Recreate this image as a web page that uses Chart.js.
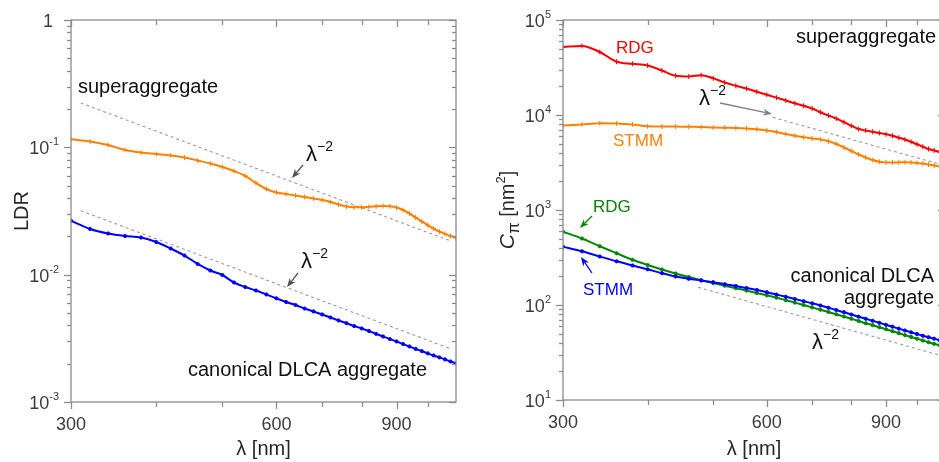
<!DOCTYPE html>
<html>
<head>
<meta charset="utf-8">
<script src="https://cdn.jsdelivr.net/npm/chart.js@4.4.1/dist/chart.umd.min.js"></script>
<style>
  html, body { margin: 0; padding: 0; background: #fff; overflow: hidden; }
  #wrap { position: relative; width: 939px; height: 462px; overflow: hidden; }
  #ldr { position: absolute; left: 0; top: 0; }
  #cpi { position: absolute; left: 470px; top: 0; }
</style>
</head>
<body>
<div id="wrap">
  <canvas id="ldr" width="470" height="462"></canvas>
  <canvas id="cpi" width="490" height="462"></canvas>
</div>
<script>
const FONT = '"Liberation Sans", Arial, Helvetica, sans-serif';

// wavelength [nm]
const lambda = [300, 320, 340, 360, 380, 400, 420, 440, 460, 480, 500, 520, 540, 560, 580,
  600, 620, 640, 660, 680, 700, 720, 740, 760, 780, 800, 820, 840, 860, 880, 900,
  920, 940, 960, 980, 1000, 1020, 1040, 1060, 1080, 1100];

// left panel: LDR
const ldrSuper = [0.1156, 0.1111, 0.1043, 0.0953, 0.0911, 0.0886, 0.0863, 0.0832, 0.0788, 0.0746,
  0.0701, 0.0652, 0.0596, 0.0525, 0.0471, 0.0442, 0.0430, 0.0418, 0.0407, 0.0396, 0.0386,
  0.0372, 0.0356, 0.0343, 0.0338, 0.0338, 0.0341, 0.0345, 0.0346, 0.0344, 0.0337, 0.0322,
  0.0302, 0.0281, 0.0262, 0.0245, 0.0230, 0.0218, 0.0209, 0.0201, 0.0194];
const ldrDlca = [0.02653, 0.02284, 0.02105, 0.02012, 0.01957, 0.01805, 0.01605, 0.01414, 0.01213,
  0.01078, 0.00994, 0.00868, 0.00800, 0.00751, 0.00699, 0.00652, 0.00610, 0.00578, 0.00542,
  0.00514, 0.00487, 0.00461, 0.00437, 0.00416, 0.00395, 0.00378, 0.00361, 0.00343, 0.00327,
  0.00312, 0.00299, 0.00285, 0.00273, 0.00261, 0.00251, 0.00241, 0.00232, 0.00224, 0.00216,
  0.00208, 0.00201];
// lambda^-2 guide lines (end points)
const ldrGuideLambda = [310, 1080];
const ldrSuperGuide = [0.223, 0.0184];
const ldrDlcaGuide = [0.0318, 0.00262];

// right panel: C_pi [nm^2]
const cpiSuperRdg = [51960, 53250, 46050, 36400, 34590, 33200, 29410, 25920, 25430, 26240, 24340,
  21990, 20340, 19010, 17550, 16360, 15250, 14210, 13280, 12500, 11700, 10700, 9880, 9166,
  8400, 7697, 7122, 6867, 6670, 6464, 6265, 6040, 5769, 5523, 5223, 4927, 4638, 4387, 4229,
  4078, 3932];
const cpiSuperStmm = [7754, 7943, 8176, 8137, 7943, 7604, 7566, 7566, 7512, 7476, 7385, 7333,
  7297, 7209, 7071, 6867, 6623, 6310, 6040, 5825, 5657, 5523, 5288, 4951, 4550, 4180, 3839,
  3569, 3360, 3217, 3162, 3162, 3170, 3178, 3162, 3124, 3086, 3012, 2940, 2870, 2801];
const cpiDlcaRdg = [591, 501, 415, 350.2, 299.1, 263.7, 236.5, 214.6, 197.1, 182.4, 170.4, 159.7,
  150.3, 141.8, 133.7, 126.5, 119.4, 112.3, 106.0, 100, 94.3, 89.2, 84.4, 79.8, 75.7, 71.6,
  67.8, 64.3, 61.3, 58.4, 55.6, 53.0, 50.5, 48.2, 46.1, 44.2, 42.3, 40.6, 39.0, 37.6, 36.1];
const cpiDlcaStmm = [411, 367.6, 323.9, 288.4, 260.5, 237.6, 216.1, 199.5, 188.7, 181.1, 173.8,
  165.6, 158.5, 151.0, 143.8, 136.4, 128.9, 122.0, 115.7, 109.6, 104.2, 98.8, 93.4, 88.6, 84.0,
  79.4, 75.3, 71.6, 68.2, 64.9, 61.9, 59.1, 56.4, 53.9, 51.6, 49.5, 47.5, 45.8, 44.2, 42.6, 41.2];
const cpiSuperGuideLambda = [612, 1100];
const cpiSuperGuide = [9460, 2928];
const cpiDlcaGuideLambda = [475, 1100];
const cpiDlcaGuide = [153.5, 28.6];

// axes
const xRange = [300, 1100];
const xTicks = [300, 400, 500, 600, 700, 800, 900, 1000];
const xLabels = [300, 600, 900];
const ldrDecades = [-3, -2, -1, 0];
const cpiDecades = [1, 2, 3, 4, 5];

const pts = (xs, ys) => xs.map((x, i) => ({ x: x, y: ys[i] }));

function series(data, color, style) {
  return {
    data: data, borderColor: color, backgroundColor: color, borderWidth: 2,
    pointStyle: style, pointRadius: style === 'cross' ? 2.5 : 1.6, pointBorderWidth: 1,
    pointBorderColor: color, cubicInterpolationMode: 'monotone'
  };
}
function guide(data) {
  return {
    data: data, borderColor: '#9a9a9a', borderWidth: 1.1, borderDash: [3, 3],
    pointRadius: 0, fill: false
  };
}

function arrow(ctx, x1, y1, x2, y2, color) {
  const a = Math.atan2(y2 - y1, x2 - x1), h = 9, w = 3.5;
  ctx.strokeStyle = color; ctx.fillStyle = color; ctx.lineWidth = 1.3;
  ctx.beginPath(); ctx.moveTo(x1, y1);
  ctx.lineTo(x2 - h * 0.7 * Math.cos(a), y2 - h * 0.7 * Math.sin(a)); ctx.stroke();
  ctx.beginPath(); ctx.moveTo(x2, y2);
  ctx.lineTo(x2 - h * Math.cos(a) + w * Math.sin(a), y2 - h * Math.sin(a) - w * Math.cos(a));
  ctx.lineTo(x2 - h * 0.7 * Math.cos(a), y2 - h * 0.7 * Math.sin(a));
  ctx.lineTo(x2 - h * Math.cos(a) - w * Math.sin(a), y2 - h * Math.sin(a) + w * Math.cos(a));
  ctx.closePath(); ctx.fill();
}

function lambdaPow(ctx, x, y) {
  ctx.fillStyle = '#111'; ctx.textAlign = 'left';
  ctx.font = '22px ' + FONT; ctx.fillText('λ', x, y);
  ctx.font = '14px ' + FONT; ctx.fillText('\u22122', x + 11, y - 10);
}

// frame, ticks, tick labels, titles and notes
const decor = {
  id: 'decor',
  afterDraw(chart, args, o) {
    const { ctx, chartArea: a, scales: { x, y } } = chart;
    ctx.save();
    ctx.strokeStyle = '#8c8c8c'; ctx.lineWidth = 1.3;
    const seg = (x1, y1, x2, y2) => { ctx.beginPath(); ctx.moveTo(x1, y1); ctx.lineTo(x2, y2); ctx.stroke(); };
    ctx.strokeRect(a.left, a.top, a.right - a.left, a.bottom - a.top);
    xTicks.forEach(v => {
      const px = Math.round(x.getPixelForValue(v)) + 0.5;
      const len = xLabels.includes(v) ? 7 : 5;
      seg(px, a.bottom, px, a.bottom + len);
      seg(px, a.top, px, a.top + len);
    });
    o.decades.forEach((d, i) => {
      for (let m = 1; m <= 9; m++) {
        if (m > 1 && i === o.decades.length - 1) break;
        const py = Math.round(y.getPixelForValue(m * Math.pow(10, d))) + 0.5;
        const len = m === 1 ? 7 : 4;
        seg(a.left - len, py, a.left, py);
        seg(a.right - len, py, a.right, py);
      }
    });
    // tick labels
    ctx.fillStyle = '#3c3c3c';
    ctx.font = '18px ' + FONT; ctx.textAlign = 'center';
    xLabels.forEach(v => ctx.fillText(String(v), x.getPixelForValue(v), a.bottom + 28));
    o.decades.forEach(d => {
      const py = y.getPixelForValue(Math.pow(10, d));
      const right = a.left - 12;
      ctx.textAlign = 'left';
      if (d === 0) {
        ctx.font = '18px ' + FONT;
        ctx.fillText('1', right - ctx.measureText('1').width - 6, py + 7);
        return;
      }
      const sup = d < 0 ? '-' + (-d) : String(d);
      ctx.font = '11px ' + FONT; const ws = ctx.measureText(sup).width;
      ctx.font = '18px ' + FONT; const wb = ctx.measureText('10').width;
      ctx.fillText('10', right - ws - wb, py + 7);
      ctx.font = '11px ' + FONT; ctx.fillText(sup, right - ws, py - 2);
    });
    // axis titles
    ctx.fillStyle = '#262626';
    ctx.font = '20px ' + FONT; ctx.textAlign = 'center';
    ctx.fillText('λ [nm]', (a.left + a.right) / 2, 455);
    ctx.save();
    ctx.translate(o.yTitleX, (a.top + a.bottom) / 2);
    ctx.rotate(-Math.PI / 2);
    if (o.yTitle === 'LDR') {
      ctx.fillText('LDR', 0, 0);
    } else {
      const parts = [
        { t: 'C', f: 'italic 21px ' + FONT, dy: 0 },
        { t: 'π', f: '17px ' + FONT, dy: 5 },
        { t: ' [nm', f: '20px ' + FONT, dy: 0 },
        { t: '2', f: '13px ' + FONT, dy: -9 },
        { t: ']', f: '20px ' + FONT, dy: 0 }
      ];
      let tw = 0;
      parts.forEach(p => { ctx.font = p.f; p.w = ctx.measureText(p.t).width; tw += p.w; });
      let cx = -tw / 2; ctx.textAlign = 'left';
      parts.forEach(p => { ctx.font = p.f; ctx.fillText(p.t, cx, p.dy); cx += p.w; });
    }
    ctx.restore();
    // notes
    o.notes.forEach(n => {
      ctx.fillStyle = n.color || '#111';
      ctx.font = (n.size || 20) + 'px ' + FONT;
      ctx.textAlign = n.align || 'left';
      ctx.fillText(n.text, n.x, n.y);
    });
    o.powers.forEach(p => lambdaPow(ctx, p[0], p[1]));
    o.arrows.forEach(r => arrow(ctx, r[0], r[1], r[2], r[3], r[4]));
    ctx.restore();
  }
};

function makeChart(id, datasets, yMin, yMax, yWidth, xHeight, padRight, deco) {
  return new Chart(document.getElementById(id), {
    type: 'line',
    data: { datasets: datasets },
    options: {
      responsive: false, animation: false, devicePixelRatio: 1,
      layout: { padding: { left: 0, right: padRight, top: 20, bottom: 0 } },
      plugins: { legend: { display: false }, tooltip: { enabled: false }, decor: deco },
      scales: {
        x: {
          type: 'logarithmic', min: xRange[0], max: xRange[1],
          grid: { display: false }, border: { display: false }, ticks: { display: false },
          afterFit: s => { s.height = xHeight; }
        },
        y: {
          type: 'logarithmic', min: yMin, max: yMax,
          grid: { display: false }, border: { display: false }, ticks: { display: false },
          afterFit: s => { s.width = yWidth; }
        }
      }
    },
    plugins: [decor]
  });
}

makeChart('ldr', [
  series(pts(lambda, ldrSuper), '#ff8000', 'cross'),
  series(pts(lambda, ldrDlca), '#0000ff', 'circle'),
  guide(pts(ldrGuideLambda, ldrSuperGuide)),
  guide(pts(ldrGuideLambda, ldrDlcaGuide))
], 1e-3, 1, 71, 60, 14, {
  decades: ldrDecades, yTitle: 'LDR', yTitleX: 28,
  notes: [
    { text: 'superaggregate', x: 78, y: 93 },
    { text: 'canonical DLCA aggregate', x: 188, y: 376 }
  ],
  powers: [[306, 161], [301, 268]],
  arrows: [[303, 165, 292, 178, '#505050'], [298, 273, 287, 287, '#505050']]
});

makeChart('cpi', [
  series(pts(lambda, cpiSuperRdg), '#ff0000', 'cross'),
  series(pts(lambda, cpiSuperStmm), '#ff8000', 'cross'),
  series(pts(lambda, cpiDlcaStmm), '#0000ff', 'circle'),
  series(pts(lambda, cpiDlcaRdg), '#008800', 'circle'),
  guide(pts(cpiSuperGuideLambda, cpiSuperGuide)),
  guide(pts(cpiDlcaGuideLambda, cpiDlcaGuide))
], 10, 1e5, 93, 62, 15, {
  decades: cpiDecades, yTitle: 'C', yTitleX: 44,
  notes: [
    { text: 'superaggregate', x: 326, y: 43 },
    { text: 'RDG', x: 146, y: 53, size: 17, color: '#ff0000' },
    { text: 'STMM', x: 143, y: 146, size: 17, color: '#ff8000' },
    { text: 'canonical DLCA', x: 464, y: 282, align: 'right' },
    { text: 'aggregate', x: 464, y: 304, align: 'right' },
    { text: 'RDG', x: 123, y: 212, size: 17, color: '#008800' },
    { text: 'STMM', x: 113, y: 295, size: 17, color: '#0000ff' }
  ],
  powers: [[229, 105], [342, 349]],
  arrows: [[250, 103, 302, 114, '#808080'], [122, 216, 110, 228, '#008800'], [122, 273, 111, 257, '#0000ff']]
});
</script>
</body>
</html>
